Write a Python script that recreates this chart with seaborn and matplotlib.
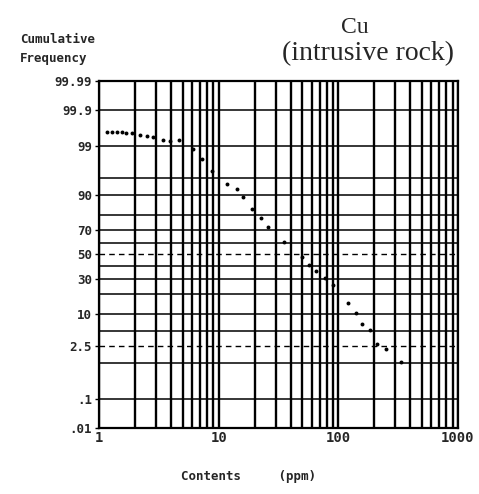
import numpy as np
import pandas as pd
import matplotlib
matplotlib.use("Agg")
import matplotlib.pyplot as plt
import seaborn as sns
from statistics import NormalDist

# ---- data ----
contents_ppm = [1.17, 1.28, 1.41, 1.56, 1.68, 1.89, 2.20, 2.52, 2.83, 3.43, 3.92, 4.66,
                6.10, 7.26, 8.80, 11.7, 14.2, 16.0, 19.0, 22.6, 25.8, 35.2, 49.7, 56.9,
                65.1, 77.4, 90.2, 120, 140, 158, 184, 210, 250, 334]
cum_freq = [99.57, 99.57, 99.57, 99.57, 99.54, 99.54, 99.48, 99.45, 99.41, 99.29, 99.25, 99.29,
            98.82, 97.97, 96.33, 93.46, 91.99, 89.12, 83.52, 78.30, 72.23, 60.56, 47.9, 41.1,
            36.2, 30.7, 25.7, 14.9, 10.5, 6.8, 5.28, 2.75, 2.14, 1.06]
y_tick_vals = [0.01, 0.1, 2.5, 10, 30, 50, 70, 90, 99, 99.9, 99.99]
y_tick_labels = [".01", ".1", "2.5", "10", "30", "50", "70", "90", "99", "99.9", "99.99"]
x_tick_vals = [1, 10, 100, 1000]
x_tick_labels = ["1", "10", "100", "1000"]
h_solid = [0.1, 1, 5, 10, 20, 30, 40, 60, 70, 80, 90, 95, 99, 99.9]
h_dashed = [2.5, 50]

df = pd.DataFrame({"Contents": contents_ppm, "CumFreq": cum_freq})

sns.set_theme(style="white")
plt.rcParams["font.family"] = ["DejaVu Sans"]

_nd = NormalDist()


def fwd(p):
    p = np.clip(np.asarray(p, dtype=float), 1e-7, 100 - 1e-7)
    return np.vectorize(lambda v: _nd.inv_cdf(v / 100.0), otypes=[float])(p)


def inv(z):
    z = np.asarray(z, dtype=float)
    return np.vectorize(lambda v: _nd.cdf(v) * 100.0, otypes=[float])(z)


W, H = 479, 494
fig = plt.figure(figsize=(W / 100, H / 100), dpi=100)
ax = fig.add_axes([99 / W, 1 - 428 / H, (458 - 99) / W, (428 - 81) / H])

ax.set_xscale("log")
ax.set_yscale("function", functions=(fwd, inv))

# vertical log grid
for dec in [1, 10, 100]:
    for m in range(1, 10):
        ax.axvline(dec * m, color="black", lw=1.7, zorder=1)
ax.axvline(1000, color="black", lw=1.7, zorder=1)
for h in h_solid:
    ax.axhline(h, color="black", lw=1.1, zorder=1)
for h in h_dashed:
    ax.axhline(h, color="black", lw=1.0, ls=(0, (4, 3)), zorder=1)

sns.scatterplot(data=df, x="Contents", y="CumFreq", ax=ax, color="black",
                s=8, marker="o", edgecolor="black", linewidth=0, zorder=3)

ax.set_xlim(1, 1000)
ax.set_ylim(0.01, 99.99)

mono = dict(family="DejaVu Sans Mono", weight="bold", size=9)
ax.set_yticks(y_tick_vals)
ax.set_yticklabels(y_tick_labels, fontdict=mono)
ax.set_xticks(x_tick_vals)
ax.set_xticklabels(x_tick_labels, fontdict=dict(family="DejaVu Sans Mono", weight="bold", size=10))
ax.minorticks_off()
ax.tick_params(axis="y", length=3, width=1, pad=2, color="black", left=True)
ax.tick_params(axis="x", length=0, pad=2)
ax.set_xlabel("")
ax.set_ylabel("")
for sp in ax.spines.values():
    sp.set_color("black")
    sp.set_linewidth(1.6)

fig.text(20 / W, 1 - 43 / H, "Cumulative", ha="left", va="baseline", **mono)
fig.text(20 / W, 1 - 62 / H, "Frequency", ha="left", va="baseline", **mono)
fig.text(249 / W, 1 - 480 / H, "Contents     (ppm)", ha="center", va="baseline", **mono)
fig.text(355 / W, 1 - 33 / H, "Cu", ha="center", va="baseline",
         family="Liberation Serif", size=17)
fig.text(368 / W, 1 - 60 / H, "(intrusive rock)", ha="center", va="baseline",
         family="Liberation Serif", size=20)

fig.savefig("out.png", dpi=100, facecolor="white")
